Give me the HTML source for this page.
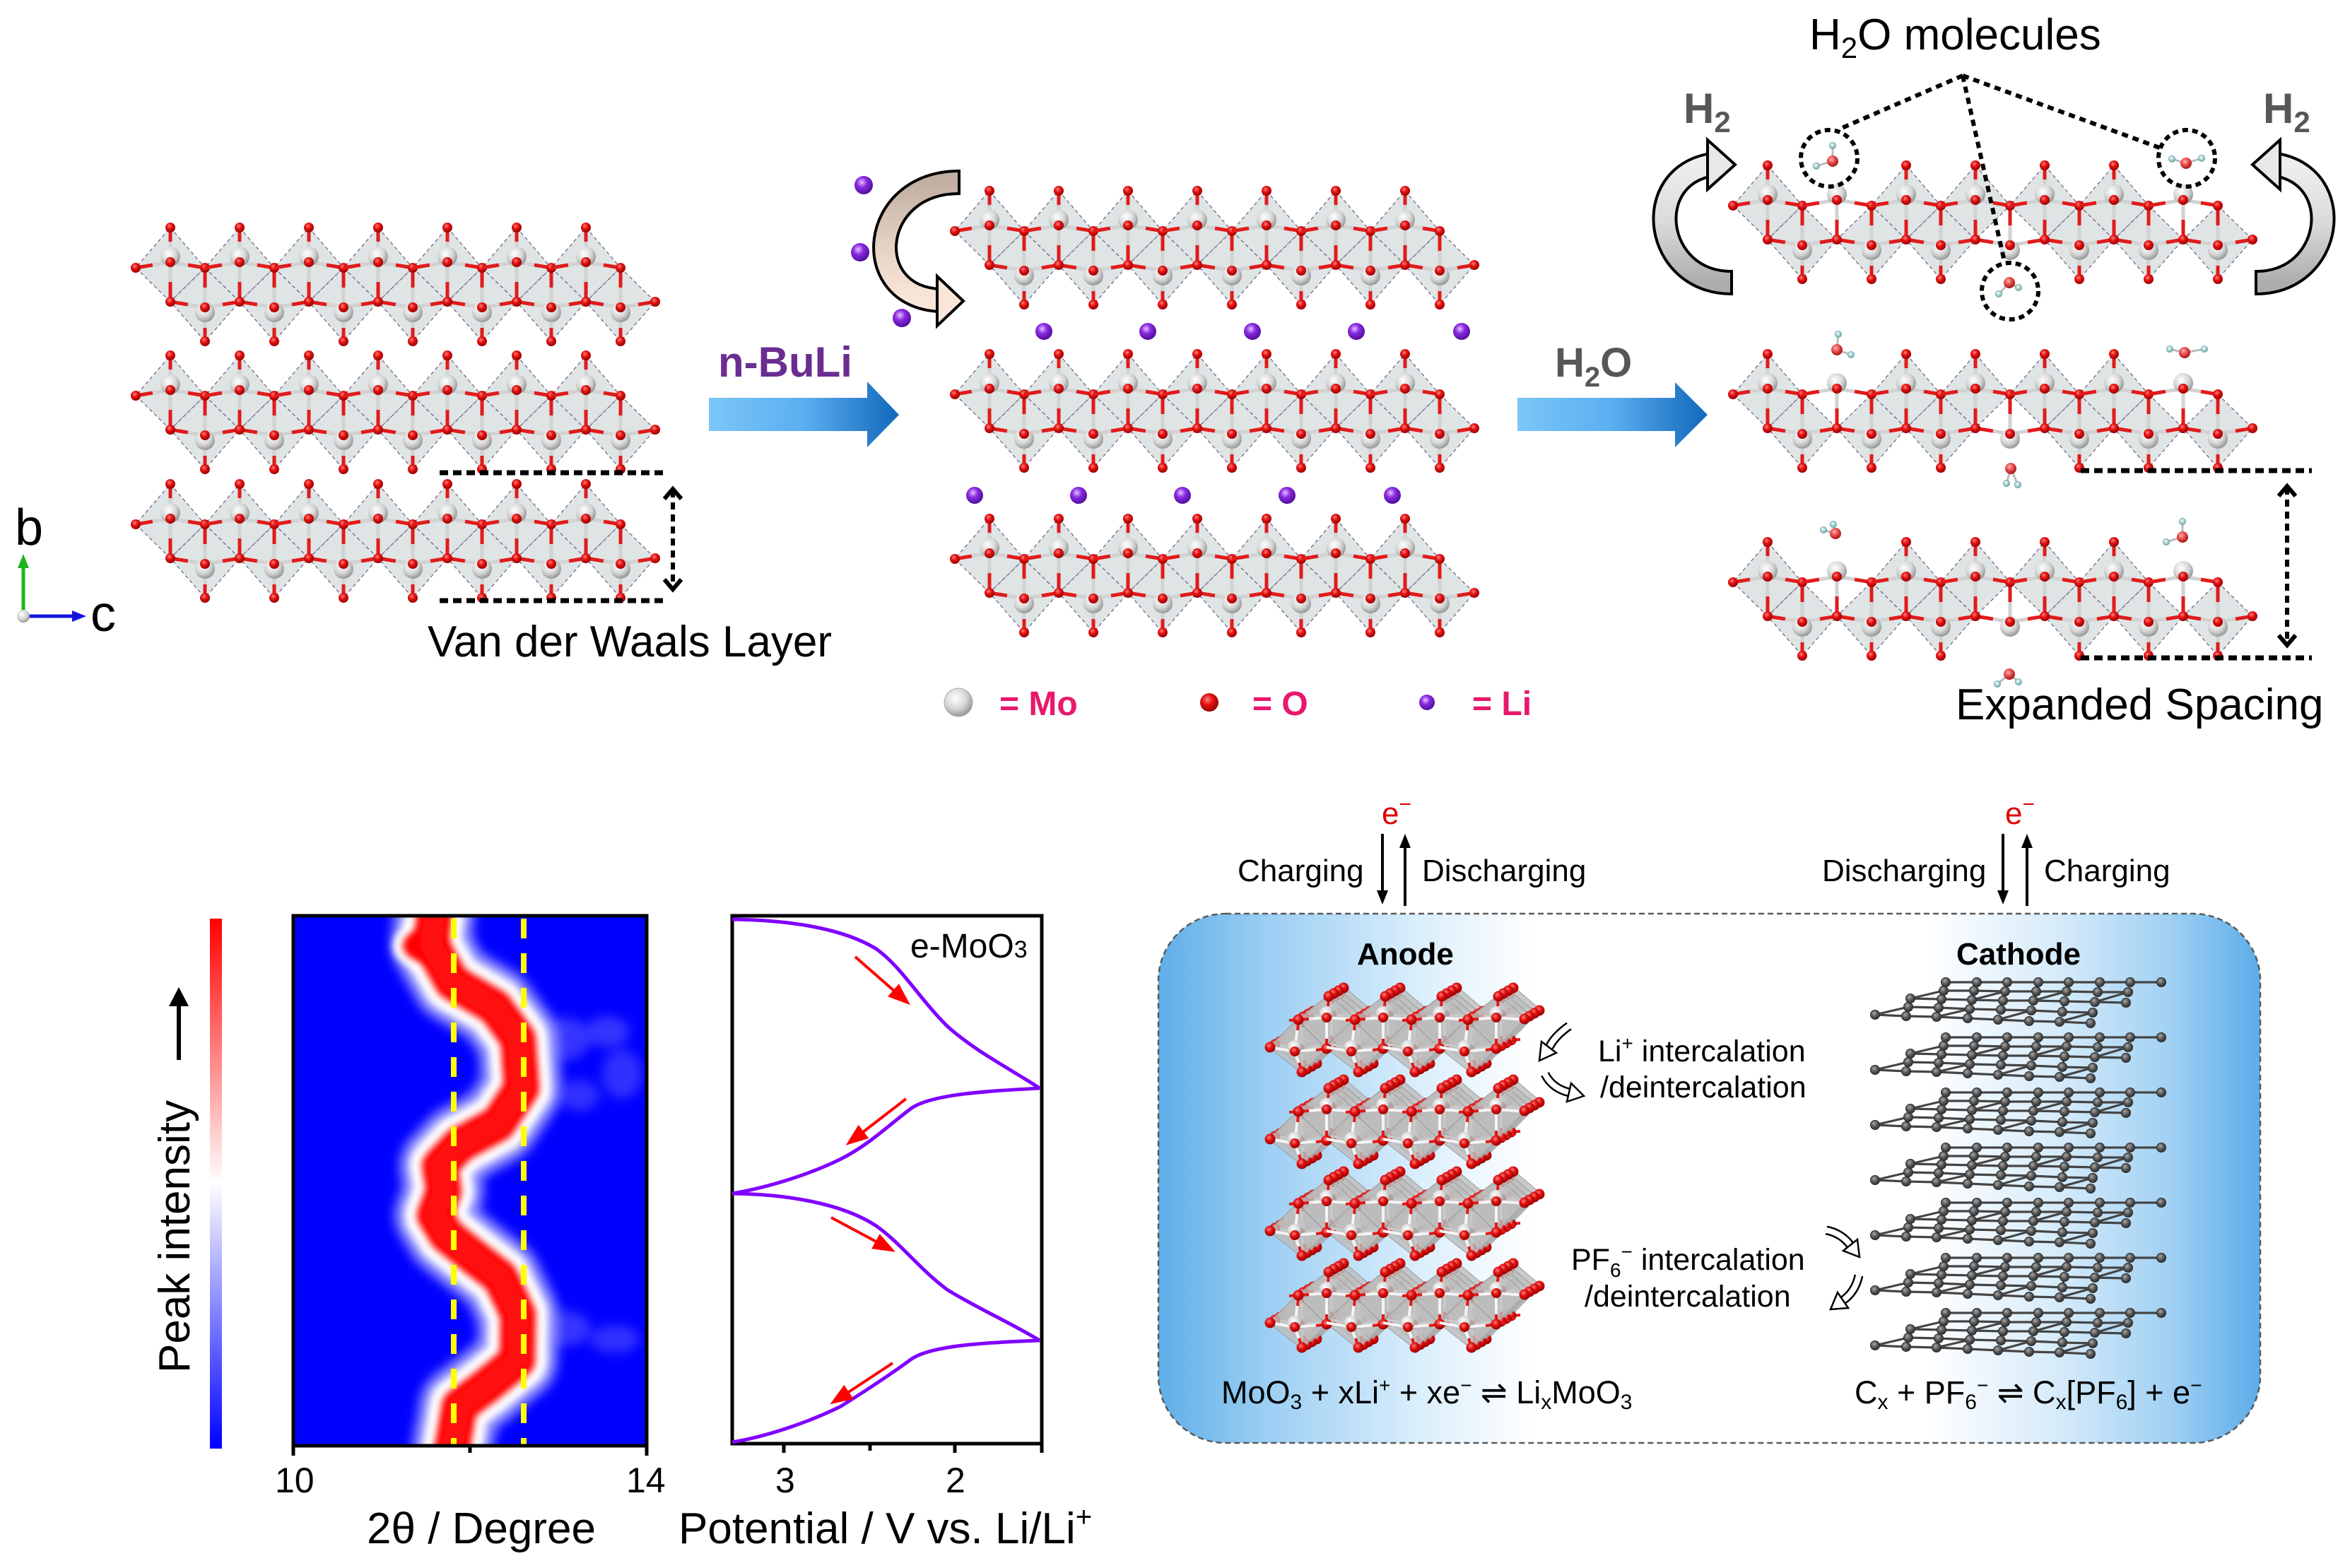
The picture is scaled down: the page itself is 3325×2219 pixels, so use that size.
<!DOCTYPE html>
<html><head><meta charset="utf-8">
<style>
html,body{margin:0;padding:0;background:#fff;width:3325px;height:2219px;overflow:hidden}
svg{display:block}
text{font-family:"Liberation Sans","DejaVu Sans",sans-serif}
.rb{stroke:#e11b1b;stroke-width:5}
.wb{stroke:#d2d2d2;stroke-width:5}
.fc{fill:#dfe4e4;stroke:#76668a;stroke-width:1.3;stroke-dasharray:5 4}
.af{fill:#bdbdbd;fill-opacity:.8;stroke:#9a9a9a;stroke-width:1}
</style></head><body>
<svg width="3325" height="2219" viewBox="0 0 3325 2219" xmlns="http://www.w3.org/2000/svg">
<defs>
<radialGradient id="gO" cx="0.4" cy="0.35" r="0.65"><stop offset="0" stop-color="#ff8080"/><stop offset="0.45" stop-color="#e41212"/><stop offset="1" stop-color="#9a0000"/></radialGradient>
<radialGradient id="gOw" cx="0.4" cy="0.35" r="0.65"><stop offset="0" stop-color="#ffb0b0"/><stop offset="0.5" stop-color="#e84a4a"/><stop offset="1" stop-color="#a01818"/></radialGradient>
<radialGradient id="gMo" cx="0.4" cy="0.35" r="0.7"><stop offset="0" stop-color="#ffffff"/><stop offset="0.55" stop-color="#d6d6d6"/><stop offset="1" stop-color="#8c8c8c"/></radialGradient>
<radialGradient id="gLi" cx="0.4" cy="0.35" r="0.7"><stop offset="0" stop-color="#e6c0ff"/><stop offset="0.4" stop-color="#8a2be2"/><stop offset="1" stop-color="#4a0a90"/></radialGradient>
<radialGradient id="gH" cx="0.4" cy="0.35" r="0.7"><stop offset="0" stop-color="#f0ffff"/><stop offset="1" stop-color="#6aa8a8"/></radialGradient>
<radialGradient id="gC" cx="0.4" cy="0.35" r="0.7"><stop offset="0" stop-color="#a8a8a8"/><stop offset="0.5" stop-color="#585858"/><stop offset="1" stop-color="#2a2a2a"/></radialGradient>
<linearGradient id="gBlue" x1="0" y1="0" x2="1" y2="0"><stop offset="0" stop-color="#7cc6f8"/><stop offset="0.5" stop-color="#5aaef0"/><stop offset="1" stop-color="#1268ba"/></linearGradient>
<linearGradient id="gH2a" x1="0" y1="0" x2="0" y2="1"><stop offset="0" stop-color="#eeeeee"/><stop offset="0.5" stop-color="#dadada"/><stop offset="1" stop-color="#adadad"/></linearGradient>
<linearGradient id="gLia" x1="0" y1="0" x2="0" y2="1"><stop offset="0" stop-color="#c2afa2"/><stop offset="0.5" stop-color="#e2d0c2"/><stop offset="1" stop-color="#fbe7d9"/></linearGradient>
<linearGradient id="gCbar" x1="0" y1="0" x2="0" y2="1"><stop offset="0" stop-color="#ff0000"/><stop offset="0.5" stop-color="#ffffff"/><stop offset="1" stop-color="#0000ff"/></linearGradient>
<linearGradient id="gBox" x1="0" y1="0" x2="1" y2="0"><stop offset="0" stop-color="#5eaee9"/><stop offset="0.1" stop-color="#9ccff3"/><stop offset="0.24" stop-color="#dcefFC"/><stop offset="0.34" stop-color="#ffffff"/><stop offset="0.7" stop-color="#ffffff"/><stop offset="0.82" stop-color="#d4eafa"/><stop offset="0.92" stop-color="#a0d0f3"/><stop offset="1" stop-color="#5aace9"/></linearGradient>
<filter id="bl5" filterUnits="userSpaceOnUse" x="0" y="0" width="3325" height="2219"><feGaussianBlur stdDeviation="5"/></filter>
<filter id="bl8" filterUnits="userSpaceOnUse" x="0" y="0" width="3325" height="2219"><feGaussianBlur stdDeviation="8"/></filter>
<marker id="ra" markerWidth="8" markerHeight="6" refX="6" refY="3" orient="auto" markerUnits="strokeWidth"><path d="M0,0 L8,3 L0,6 z" fill="#ff0000"/></marker>
<clipPath id="cpH"><rect x="415" y="1296" width="500" height="750"/></clipPath>

<polygon id="fu" class="fc" points="0,0 49,57 0,105 -49,57"/>
<polygon id="fl" class="fc" points="49,57 98,105 49,161 0,105"/>
<g id="bt"><line x1="0" y1="0" x2="0" y2="20" class="rb"/><line x1="0" y1="20" x2="0" y2="36" class="wb"/><circle cx="0" cy="0" r="7" fill="url(#gO)"/></g>
<g id="bb"><line x1="49" y1="126" x2="49" y2="142" class="wb"/><line x1="49" y1="142" x2="49" y2="161" class="rb"/><circle cx="49" cy="161" r="7" fill="url(#gO)"/></g>
<g id="core">
<line x1="-49" y1="57" x2="-25" y2="53" class="rb"/>
<line x1="-25" y1="53" x2="0" y2="49" class="wb"/>
<line x1="0" y1="49" x2="25" y2="53" class="wb"/>
<line x1="25" y1="53" x2="49" y2="57" class="rb"/>
<line x1="0" y1="105" x2="25" y2="109" class="rb"/>
<line x1="25" y1="109" x2="49" y2="113" class="wb"/>
<line x1="49" y1="113" x2="74" y2="109" class="wb"/>
<line x1="74" y1="109" x2="98" y2="105" class="rb"/>
<line x1="0" y1="49" x2="0" y2="77" class="wb"/>
<line x1="0" y1="77" x2="0" y2="105" class="rb"/>
<line x1="49" y1="57" x2="49" y2="85" class="rb"/>
<line x1="49" y1="85" x2="49" y2="113" class="wb"/>
<circle cx="0" cy="41" r="14" fill="url(#gMo)"/>
<circle cx="0" cy="49" r="7" fill="url(#gO)"/>
<circle cx="49" cy="57" r="7" fill="url(#gO)"/>
<circle cx="49" cy="120" r="14" fill="url(#gMo)"/>
<circle cx="49" cy="113" r="7" fill="url(#gO)"/>
<circle cx="0" cy="105" r="7" fill="url(#gO)"/>
</g>
<circle id="eL" cx="-49" cy="57" r="7" fill="url(#gO)"/>
<circle id="eR" cx="686" cy="105" r="7" fill="url(#gO)"/>

<g id="L">
<use href="#fu" x="0"/><use href="#fu" x="98"/><use href="#fu" x="196"/><use href="#fu" x="294"/><use href="#fu" x="392"/><use href="#fu" x="490"/><use href="#fu" x="588"/>
<use href="#fl" x="0"/><use href="#fl" x="98"/><use href="#fl" x="196"/><use href="#fl" x="294"/><use href="#fl" x="392"/><use href="#fl" x="490"/><use href="#fl" x="588"/>
<use href="#bt" x="0"/><use href="#bt" x="98"/><use href="#bt" x="196"/><use href="#bt" x="294"/><use href="#bt" x="392"/><use href="#bt" x="490"/><use href="#bt" x="588"/>
<use href="#bb" x="0"/><use href="#bb" x="98"/><use href="#bb" x="196"/><use href="#bb" x="294"/><use href="#bb" x="392"/><use href="#bb" x="490"/><use href="#bb" x="588"/>
<use href="#core" x="0"/><use href="#core" x="98"/><use href="#core" x="196"/><use href="#core" x="294"/><use href="#core" x="392"/><use href="#core" x="490"/><use href="#core" x="588"/>
<use href="#eL"/><use href="#eR"/>
</g>
<g id="LR">
<use href="#fu" x="0"/><use href="#fu" x="196"/><use href="#fu" x="294"/><use href="#fu" x="392"/><use href="#fu" x="490"/>
<use href="#fl" x="0"/><use href="#fl" x="98"/><use href="#fl" x="196"/><use href="#fl" x="392"/><use href="#fl" x="490"/><use href="#fl" x="588"/>
<use href="#bt" x="0"/><use href="#bt" x="196"/><use href="#bt" x="294"/><use href="#bt" x="392"/><use href="#bt" x="490"/>
<use href="#bb" x="0"/><use href="#bb" x="98"/><use href="#bb" x="196"/><use href="#bb" x="392"/><use href="#bb" x="490"/><use href="#bb" x="588"/>
<use href="#core" x="0"/><use href="#core" x="98"/><use href="#core" x="196"/><use href="#core" x="294"/><use href="#core" x="392"/><use href="#core" x="490"/><use href="#core" x="588"/>
<use href="#eL"/><use href="#eR"/>
</g>

<g id="acf">
<polygon class="af" points="48,-80 87,-47 45,-4 3,-45"/>
<polygon class="af" points="3,-45 45,-4 10,31 -37,-6"/>
</g>
<g id="aca">
<g stroke="#f4f4f4" stroke-width="4" fill="none">
<line x1="48" y1="-78" x2="45" y2="-50"/><line x1="45" y1="-50" x2="45" y2="-4"/><line x1="5" y1="-45" x2="0" y2="0"/><line x1="0" y1="0" x2="10" y2="29"/>
<polyline points="5,-45 45,-48 85,-45"/><polyline points="-35,-6 0,0 45,-4"/>
</g>
<g stroke="#e01818" stroke-width="4">
<line x1="48" y1="-78" x2="47" y2="-64"/><line x1="45" y1="-18" x2="45" y2="-4"/><line x1="5" y1="-45" x2="4" y2="-30"/><line x1="10" y1="29" x2="6" y2="16"/>
<line x1="5" y1="-45" x2="20" y2="-46"/><line x1="45" y1="-4" x2="30" y2="-2"/><line x1="45" y1="-4" x2="58" y2="-5"/><line x1="5" y1="-45" x2="-8" y2="-44"/>
</g>
<circle cx="45" cy="-54" r="10" fill="url(#gMo)"/><circle cx="0" cy="-6" r="10" fill="url(#gMo)"/>
<circle cx="48" cy="-78" r="7.5" fill="url(#gO)"/><circle cx="5" cy="-45" r="7.5" fill="url(#gO)"/><circle cx="45" cy="-48" r="7" fill="url(#gO)"/>
<circle cx="45" cy="-4" r="7.5" fill="url(#gO)"/><circle cx="0" cy="0" r="7" fill="url(#gO)"/><circle cx="10" cy="29" r="7.5" fill="url(#gO)"/>
</g>
<g id="AL">
<use href="#acf" x="0"/><use href="#acf" x="80"/><use href="#acf" x="160"/><use href="#acf" x="240"/>
<use href="#aca" x="0"/><use href="#aca" x="80"/><use href="#aca" x="160"/><use href="#aca" x="240"/>
<circle cx="-35" cy="-6" r="7.5" fill="url(#gO)"/><circle cx="325" cy="-46" r="7.5" fill="url(#gO)"/>
</g>
<g id="A3"><use href="#AL" x="21" y="-12"/><use href="#AL" x="14" y="-8"/><use href="#AL" x="7" y="-4"/><use href="#AL" x="0" y="0"/></g>

<g id="GS">
<g fill="none" stroke="#454545" stroke-width="3.2" stroke-linejoin="round">
<polyline points="0,46 44,48 87,49 131,51 174,53 218,55 261,56 305,58"/>
<polyline points="47,35 90,36 134,38 178,39 221,40 265,42 308,43"/>
<polyline points="50,23 94,24 137,25 181,26 224,26 268,27 311,28 355,29"/>
<polyline points="97,12 140,12 184,13 228,13 271,13 315,14 358,14"/>
<polyline points="100,0 144,0 187,0 231,0 274,0 318,0 361,0 405,0"/>
<path d="M0,46 L47,35 M87,49 L134,38 M174,53 L221,40 M261,56 L308,43 M90,36 L94,24 M178,39 L181,26 M265,42 L268,27 M50,23 L97,12 M137,25 L184,13 M224,26 L271,13 M311,28 L358,14 M140,12 L144,0 M228,13 L231,0 M315,14 L318,0"/>
</g>
<g fill="url(#gC)" stroke="#2c2c2c" stroke-width="1">
<circle cx="0" cy="46" r="6.5"/><circle cx="44" cy="48" r="6.5"/><circle cx="87" cy="49" r="6.5"/><circle cx="131" cy="51" r="6.5"/><circle cx="174" cy="53" r="6.5"/><circle cx="218" cy="55" r="6.5"/><circle cx="261" cy="56" r="6.5"/><circle cx="305" cy="58" r="6.5"/>
<circle cx="47" cy="35" r="6.5"/><circle cx="90" cy="36" r="6.5"/><circle cx="134" cy="38" r="6.5"/><circle cx="178" cy="39" r="6.5"/><circle cx="221" cy="40" r="6.5"/><circle cx="265" cy="42" r="6.5"/><circle cx="308" cy="43" r="6.5"/>
<circle cx="50" cy="23" r="6.5"/><circle cx="94" cy="24" r="6.5"/><circle cx="137" cy="25" r="6.5"/><circle cx="181" cy="26" r="6.5"/><circle cx="224" cy="26" r="6.5"/><circle cx="268" cy="27" r="6.5"/><circle cx="311" cy="28" r="6.5"/><circle cx="355" cy="29" r="6.5"/>
<circle cx="97" cy="12" r="6.5"/><circle cx="140" cy="12" r="6.5"/><circle cx="184" cy="13" r="6.5"/><circle cx="228" cy="13" r="6.5"/><circle cx="271" cy="13" r="6.5"/><circle cx="315" cy="14" r="6.5"/><circle cx="358" cy="14" r="6.5"/>
<circle cx="100" cy="0" r="6.5"/><circle cx="144" cy="0" r="6.5"/><circle cx="187" cy="0" r="6.5"/><circle cx="231" cy="0" r="6.5"/><circle cx="274" cy="0" r="6.5"/><circle cx="318" cy="0" r="6.5"/><circle cx="361" cy="0" r="6.5"/><circle cx="405" cy="0" r="6.5"/>
</g>
</g>

<g id="h2arrow">
<path d="M2450,400 C2340,400 2320,250 2422,233" fill="none" stroke="#000" stroke-width="36"/>
<path d="M2450,400 C2340,400 2320,250 2422,233" fill="none" stroke="url(#gH2a)" stroke-width="28"/>
<line x1="2450" y1="382" x2="2450" y2="418" stroke="#000" stroke-width="4"/>
<polygon points="2416,198 2455,233 2416,268" fill="#e8e8e8" stroke="#000" stroke-width="4"/>
</g>
</defs>

<use href="#L" x="241" y="322"/>
<use href="#L" x="241" y="503"/>
<use href="#L" x="241" y="685"/>

<use href="#L" x="1400" y="270"/>
<use href="#L" x="1400" y="501"/>
<use href="#L" x="1400" y="734"/>

<use href="#LR" x="2501" y="234"/>
<use href="#LR" x="2501" y="501"/>
<use href="#LR" x="2501" y="767"/>

<line x1="33" y1="872" x2="33" y2="800" stroke="#1db31d" stroke-width="5"/>
<polygon points="25,804 33,784 41,804" fill="#1db31d"/>
<line x1="33" y1="872" x2="104" y2="872" stroke="#1414e0" stroke-width="5"/>
<polygon points="102,864 122,872 102,880" fill="#1414e0"/>
<circle cx="33" cy="872" r="9" fill="url(#gMo)"/>
<text x="21" y="771" font-size="72">b</text>
<text x="128" y="893" font-size="72">c</text>

<g stroke="#000" fill="none">
<line x1="622" y1="669" x2="945" y2="669" stroke-width="7" stroke-dasharray="12 7"/>
<line x1="622" y1="850" x2="945" y2="850" stroke-width="7" stroke-dasharray="12 7"/>
<line x1="952" y1="694" x2="952" y2="832" stroke-width="6" stroke-dasharray="10 7"/>
<polyline points="940,706 952,692 964,706" stroke-width="6"/>
<polyline points="940,820 952,834 964,820" stroke-width="6"/>
</g>
<text x="605" y="929" font-size="62">Van der Waals Layer</text>

<text x="1016" y="533" font-size="60" font-weight="bold" fill="#6a2d91">n-BuLi</text>
<polygon points="1003,563 1227,563 1227,540 1272,587 1227,633 1227,610 1003,610" fill="url(#gBlue)"/>

<path d="M1357,258 C1230,258 1215,420 1330,425" fill="none" stroke="#000" stroke-width="36"/>
<path d="M1357,258 C1230,258 1215,420 1330,425" fill="none" stroke="url(#gLia)" stroke-width="28"/>
<line x1="1357" y1="240" x2="1357" y2="276" stroke="#000" stroke-width="4"/>
<polygon points="1326,391 1363,426 1326,461" fill="#fae6d8" stroke="#000" stroke-width="4"/>

<g fill="url(#gLi)">
<circle cx="1222" cy="262" r="13"/><circle cx="1217" cy="357" r="13"/><circle cx="1276" cy="450" r="13"/>
<circle cx="1477" cy="469" r="12"/><circle cx="1624" cy="469" r="12"/><circle cx="1772" cy="469" r="12"/><circle cx="1919" cy="469" r="12"/><circle cx="2068" cy="469" r="12"/>
<circle cx="1379" cy="701" r="12"/><circle cx="1526" cy="701" r="12"/><circle cx="1673" cy="701" r="12"/><circle cx="1821" cy="701" r="12"/><circle cx="1970" cy="701" r="12"/>
</g>

<circle cx="1356" cy="994" r="20" fill="url(#gMo)" stroke="#aaa" stroke-width="1"/>
<text x="1414" y="1012" font-size="48" font-weight="bold" fill="#e8186b">= Mo</text>
<circle cx="1711" cy="994" r="13" fill="url(#gO)"/>
<text x="1772" y="1012" font-size="48" font-weight="bold" fill="#e8186b">= O</text>
<circle cx="2019" cy="994" r="11" fill="url(#gLi)"/>
<text x="2083" y="1012" font-size="48" font-weight="bold" fill="#e8186b">= Li</text>

<text x="2200" y="533" font-size="58" font-weight="bold" fill="#575757">H<tspan font-size="40" dy="14">2</tspan><tspan dy="-14">O</tspan></text>
<polygon points="2147,563 2370,563 2370,541 2416,587 2370,633 2370,610 2147,610" fill="url(#gBlue)"/>

<use href="#h2arrow"/>
<use href="#h2arrow" transform="translate(5642,0) scale(-1,1)"/>
<text x="2382" y="174" font-size="60" font-weight="bold" fill="#575757">H<tspan font-size="42" dy="13">2</tspan></text>
<text x="3202" y="174" font-size="60" font-weight="bold" fill="#575757">H<tspan font-size="42" dy="13">2</tspan></text>

<g>
<g stroke="#bcbcbc" stroke-width="3">
<line x1="2593" y1="228" x2="2593" y2="206"/><line x1="2593" y1="228" x2="2570" y2="235"/>
<line x1="3093" y1="231" x2="3073" y2="225"/><line x1="3093" y1="231" x2="3115" y2="224"/>
<line x1="2843" y1="400" x2="2828" y2="416"/><line x1="2843" y1="400" x2="2856" y2="407"/>
<line x1="2599" y1="495" x2="2601" y2="473"/><line x1="2599" y1="495" x2="2619" y2="502"/>
<line x1="3091" y1="499" x2="3070" y2="494"/><line x1="3091" y1="499" x2="3119" y2="494"/>
<line x1="2845" y1="663" x2="2839" y2="684"/><line x1="2845" y1="663" x2="2855" y2="686"/>
<line x1="2597" y1="755" x2="2580" y2="750"/><line x1="2597" y1="755" x2="2594" y2="742"/>
<line x1="3088" y1="760" x2="3088" y2="738"/><line x1="3088" y1="760" x2="3065" y2="767"/>
<line x1="2843" y1="954" x2="2826" y2="968"/><line x1="2843" y1="954" x2="2856" y2="965"/>
</g>
<g fill="url(#gH)" stroke="#5a9a9a" stroke-width="0.8">
<circle cx="2593" cy="206" r="4.5"/><circle cx="2570" cy="235" r="4.5"/>
<circle cx="3073" cy="225" r="4.5"/><circle cx="3115" cy="224" r="4.5"/>
<circle cx="2828" cy="416" r="4.5"/><circle cx="2856" cy="407" r="4.5"/>
<circle cx="2601" cy="473" r="4.5"/><circle cx="2619" cy="502" r="4.5"/>
<circle cx="3070" cy="494" r="4.5"/><circle cx="3119" cy="494" r="4.5"/>
<circle cx="2839" cy="684" r="4.5"/><circle cx="2855" cy="686" r="4.5"/>
<circle cx="2580" cy="750" r="4.5"/><circle cx="2594" cy="742" r="4.5"/>
<circle cx="3088" cy="738" r="4.5"/><circle cx="3065" cy="767" r="4.5"/>
<circle cx="2826" cy="968" r="4.5"/><circle cx="2856" cy="965" r="4.5"/>
</g>
<g fill="url(#gOw)">
<circle cx="2593" cy="228" r="8"/><circle cx="3093" cy="231" r="8"/><circle cx="2843" cy="400" r="8"/>
<circle cx="2599" cy="495" r="8"/><circle cx="3091" cy="499" r="8"/><circle cx="2845" cy="663" r="8"/>
<circle cx="2597" cy="755" r="8"/><circle cx="3088" cy="760" r="8"/><circle cx="2843" cy="954" r="8"/>
</g>
</g>

<g stroke="#000" fill="none" stroke-width="6">
<circle cx="2588" cy="224" r="40" stroke-dasharray="8 6"/>
<circle cx="3094" cy="224" r="40" stroke-dasharray="8 6"/>
<circle cx="2844" cy="412" r="40" stroke-dasharray="8 6"/>
<line x1="2777" y1="107" x2="2604" y2="182" stroke-dasharray="9 7"/>
<line x1="2777" y1="107" x2="3058" y2="210" stroke-dasharray="9 7"/>
<line x1="2777" y1="107" x2="2836" y2="370" stroke-dasharray="9 7"/>
</g>
<text x="2560" y="70" font-size="62">H<tspan font-size="42" dy="12">2</tspan><tspan dy="-12">O molecules</tspan></text>

<g stroke="#000" fill="none">
<line x1="2944" y1="666" x2="3271" y2="666" stroke-width="7" stroke-dasharray="12 7"/>
<line x1="2944" y1="931" x2="3271" y2="931" stroke-width="7" stroke-dasharray="12 7"/>
<line x1="3236" y1="690" x2="3236" y2="911" stroke-width="6" stroke-dasharray="10 7"/>
<polyline points="3224,702 3236,688 3248,702" stroke-width="6"/>
<polyline points="3224,899 3236,913 3248,899" stroke-width="6"/>
</g>
<text x="2767" y="1018" font-size="62">Expanded Spacing</text>

<rect x="297" y="1300" width="17" height="750" fill="url(#gCbar)"/>
<text transform="translate(268,1750) rotate(-90)" text-anchor="middle" font-size="62">Peak intensity</text>
<line x1="253" y1="1500" x2="253" y2="1418" stroke="#000" stroke-width="6"/>
<polygon points="239,1424 253,1397 267,1424" fill="#000"/>

<g clip-path="url(#cpH)">
<rect x="415" y="1296" width="500" height="750" fill="#0000ff"/>
<g filter="url(#bl8)" opacity="0.3">
<ellipse cx="800" cy="1470" rx="35" ry="30" fill="#b0b0ff"/>
<ellipse cx="860" cy="1460" rx="30" ry="22" fill="#b0b0ff"/>
<ellipse cx="880" cy="1520" rx="28" ry="35" fill="#a0a0ff"/>
<ellipse cx="820" cy="1550" rx="28" ry="22" fill="#a0a0ff"/>
<ellipse cx="800" cy="1880" rx="35" ry="25" fill="#b0b0ff"/>
<ellipse cx="870" cy="1895" rx="35" ry="20" fill="#a0a0ff"/>
</g>
<g fill="none" stroke-linejoin="round" stroke-linecap="round">
<polyline points="616,1280 610,1337 640,1390 700,1425 733,1470 738,1540 705,1590 650,1620 622,1650 628,1685 615,1720 632,1748 668,1777 708,1808 733,1860 732,1925 690,1960 650,1990 638,2060" stroke="#9a9aff" stroke-width="112" filter="url(#bl8)"/>
<ellipse cx="598" cy="1338" rx="42" ry="32" fill="#ffffff" stroke="none" filter="url(#bl5)"/>
<polyline points="616,1280 610,1337 640,1390 700,1425 733,1470 738,1540 705,1590 650,1620 622,1650 628,1685 615,1720 632,1748 668,1777 708,1808 733,1860 732,1925 690,1960 650,1990 638,2060" stroke="#ffffff" stroke-width="84" filter="url(#bl5)"/>
<ellipse cx="600" cy="1338" rx="30" ry="22" fill="#ff0000" stroke="none" filter="url(#bl5)"/>
<polyline points="616,1280 610,1337 640,1390 700,1425 733,1470 738,1540 705,1590 650,1620 622,1650 628,1685 615,1720 632,1748 668,1777 708,1808 733,1860 732,1925 690,1960 650,1990 638,2060" stroke="#ff0000" stroke-width="50" filter="url(#bl5)"/>
<polyline points="616,1280 610,1337 640,1390 700,1425 733,1470 738,1540 705,1590 650,1620 622,1650 628,1685 615,1720 632,1748 668,1777 708,1808 733,1860 732,1925 690,1960 650,1990 638,2060" stroke="#ff1010" stroke-width="30"/>
</g>
<g stroke="#ffff00" stroke-width="8" stroke-dasharray="28 21">
<line x1="642" y1="1300" x2="642" y2="2046"/>
<line x1="741" y1="1300" x2="741" y2="2046"/>
</g>
</g>
<rect x="415" y="1296" width="500" height="750" fill="none" stroke="#000" stroke-width="5"/>
<g stroke="#000" stroke-width="5">
<line x1="415" y1="2046" x2="415" y2="2060"/><line x1="665" y1="2046" x2="665" y2="2056"/><line x1="915" y1="2046" x2="915" y2="2060"/>
</g>
<text x="389" y="2112" font-size="50">10</text>
<text x="886" y="2112" font-size="50">14</text>
<text x="519" y="2184" font-size="62">2θ / Degree</text>

<rect x="1036" y="1296" width="438" height="747" fill="none" stroke="#000" stroke-width="5"/>
<g stroke="#000" stroke-width="5">
<line x1="1109" y1="2043" x2="1109" y2="2056"/><line x1="1231" y1="2043" x2="1231" y2="2053"/><line x1="1351" y1="2043" x2="1351" y2="2056"/><line x1="1474" y1="2043" x2="1474" y2="2056"/>
</g>
<g fill="none" stroke="#8000ff" stroke-width="5">
<path d="M1036,1301 C1110,1302 1190,1312 1240,1343 C1275,1368 1300,1412 1340,1452 C1380,1488 1430,1513 1471,1540"/>
<path d="M1471,1540 C1400,1544 1320,1548 1290,1568 C1260,1590 1230,1620 1190,1640 C1150,1660 1090,1680 1036,1689"/>
<path d="M1036,1689 C1110,1690 1190,1702 1240,1735 C1275,1760 1300,1795 1340,1825 C1380,1850 1430,1872 1471,1897"/>
<path d="M1471,1897 C1400,1900 1320,1903 1290,1923 C1260,1945 1230,1965 1190,1990 C1150,2010 1090,2032 1036,2041"/>
</g>
<g stroke="#ff0000" stroke-width="4" marker-end="url(#ra)">
<line x1="1210" y1="1354" x2="1282" y2="1417"/>
<line x1="1282" y1="1555" x2="1203" y2="1616"/>
<line x1="1176" y1="1723" x2="1260" y2="1768"/>
<line x1="1263" y1="1929" x2="1181" y2="1983"/>
</g>
<text x="1288" y="1355" font-size="48">e-MoO<tspan font-size="34">3</tspan></text>
<text x="1097" y="2112" font-size="50">3</text>
<text x="1338" y="2112" font-size="50">2</text>
<text x="960" y="2184" font-size="62">Potential / V vs. Li/Li<tspan font-size="40" dy="-24">+</tspan></text>

<rect x="1639" y="1293" width="1559" height="749" rx="95" ry="95" fill="url(#gBox)" stroke="#5a5a5a" stroke-width="2.5" stroke-dasharray="8 5"/>

<text x="1751" y="1247" font-size="44">Charging</text>
<text x="2012" y="1247" font-size="44">Discharging</text>
<text x="1955" y="1166" font-size="44" fill="#e00000">e<tspan font-size="30" dy="-18">−</tspan></text>
<line x1="1956" y1="1180" x2="1956" y2="1262" stroke="#000" stroke-width="4"/>
<polygon points="1948,1260 1956,1280 1964,1260" fill="#000"/>
<line x1="1988" y1="1282" x2="1988" y2="1198" stroke="#000" stroke-width="4"/>
<polygon points="1980,1200 1988,1180 1996,1200" fill="#000"/>

<text x="2578" y="1247" font-size="44">Discharging</text>
<text x="2892" y="1247" font-size="44">Charging</text>
<text x="2837" y="1166" font-size="44" fill="#e00000">e<tspan font-size="30" dy="-18">−</tspan></text>
<line x1="2834" y1="1180" x2="2834" y2="1262" stroke="#000" stroke-width="4"/>
<polygon points="2826,1260 2834,1280 2842,1260" fill="#000"/>
<line x1="2868" y1="1282" x2="2868" y2="1198" stroke="#000" stroke-width="4"/>
<polygon points="2860,1200 2868,1180 2876,1200" fill="#000"/>

<text x="1920" y="1365" font-size="44" font-weight="bold">Anode</text>
<text x="2768" y="1365" font-size="44" font-weight="bold">Cathode</text>

<use href="#A3" x="1832" y="1488"/>
<use href="#A3" x="1832" y="1618"/>
<use href="#A3" x="1832" y="1748"/>
<use href="#A3" x="1832" y="1878"/>

<use href="#GS" x="2653" y="1390"/>
<use href="#GS" x="2653" y="1468"/>
<use href="#GS" x="2653" y="1546"/>
<use href="#GS" x="2653" y="1624"/>
<use href="#GS" x="2653" y="1702"/>
<use href="#GS" x="2653" y="1780"/>
<use href="#GS" x="2653" y="1858"/>

<g fill="none" stroke-linecap="butt">
<path d="M2220,1452 Q2200,1466 2192,1482" stroke="#000" stroke-width="13"/>
<path d="M2220,1452 Q2200,1466 2192,1482" stroke="#fff" stroke-width="8"/>
<path d="M2186,1520 Q2196,1540 2220,1546" stroke="#000" stroke-width="13"/>
<path d="M2186,1520 Q2196,1540 2220,1546" stroke="#fff" stroke-width="8"/>
<path d="M2584,1741 Q2605,1745 2618,1762" stroke="#000" stroke-width="13"/>
<path d="M2584,1741 Q2605,1745 2618,1762" stroke="#fff" stroke-width="8"/>
<path d="M2630,1805 Q2625,1828 2608,1840" stroke="#000" stroke-width="13"/>
<path d="M2630,1805 Q2625,1828 2608,1840" stroke="#fff" stroke-width="8"/>
</g>
<g fill="#fff" stroke="#000" stroke-width="2.5" stroke-linejoin="miter">
<polygon points="2202,1490 2181,1474 2178,1501"/>
<polygon points="2217,1559 2223,1533 2241,1551"/>
<polygon points="2608,1770 2628,1754 2631,1779"/>
<polygon points="2615,1851 2600,1829 2590,1853"/>
</g>

<text x="2261" y="1502" font-size="43">Li<tspan font-size="28" dy="-16">+</tspan><tspan dy="16"> intercalation</tspan></text>
<text x="2264" y="1553" font-size="43">/deintercalation</text>
<text x="2223" y="1797" font-size="43">PF<tspan font-size="28" dy="10">6</tspan><tspan font-size="28" dy="-26">−</tspan><tspan dy="16"> intercalation</tspan></text>
<text x="2242" y="1849" font-size="43">/deintercalation</text>

<text x="1728" y="1986" font-size="45">MoO<tspan font-size="30" dy="8">3</tspan><tspan dy="-8"> + xLi</tspan><tspan font-size="28" dy="-16">+</tspan><tspan dy="16"> + xe</tspan><tspan font-size="28" dy="-16">−</tspan><tspan dy="16"> ⇌ Li</tspan><tspan font-size="30" dy="8">x</tspan><tspan dy="-8">MoO</tspan><tspan font-size="30" dy="8">3</tspan></text>
<text x="2624" y="1986" font-size="45">C<tspan font-size="30" dy="8">x</tspan><tspan dy="-8"> + PF</tspan><tspan font-size="30" dy="8">6</tspan><tspan font-size="28" dy="-24">−</tspan><tspan dy="16"> ⇌ C</tspan><tspan font-size="30" dy="8">x</tspan><tspan dy="-8">[PF</tspan><tspan font-size="30" dy="8">6</tspan><tspan dy="-8">] + e</tspan><tspan font-size="28" dy="-16">−</tspan></text>

</svg>
</body></html>
